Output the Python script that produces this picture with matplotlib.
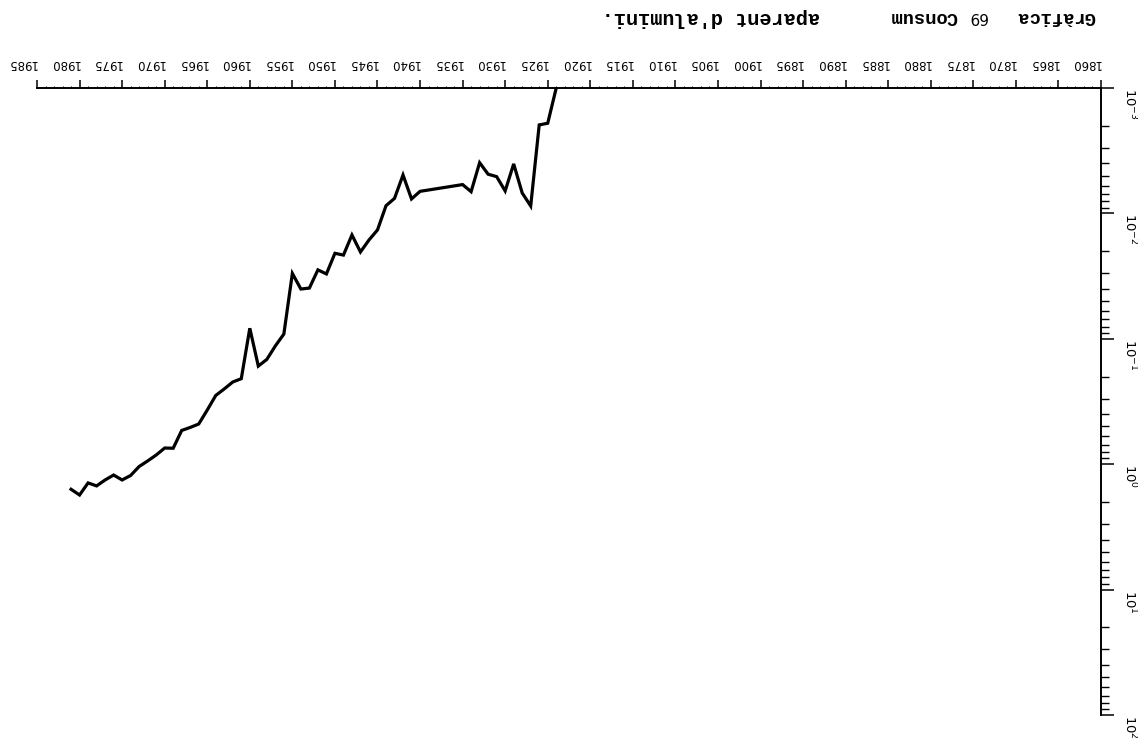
import numpy as np
import matplotlib
matplotlib.use("Agg")
import matplotlib.pyplot as plt
from matplotlib import font_manager
from matplotlib.ticker import FixedLocator, NullFormatter

years = [1924, 1925, 1926, 1927, 1928, 1929, 1930, 1931, 1932, 1933, 1934, 1935,
         1940, 1941, 1942, 1943, 1944, 1945, 1946, 1947, 1948, 1949, 1950,
         1951, 1952, 1953, 1954, 1955, 1956, 1957, 1958, 1959, 1960,
         1961, 1962, 1963, 1964, 1965, 1966, 1967, 1968, 1969, 1970,
         1971, 1972, 1973, 1974, 1975, 1976, 1977, 1978, 1979, 1980, 1981]
consum = [0.00100, 0.00191, 0.00197, 0.00873, 0.00687, 0.00403, 0.00662, 0.00509,
          0.00487, 0.00394, 0.00671, 0.00589,
          0.00667, 0.00767, 0.00494, 0.00759, 0.00869, 0.01355, 0.0163, 0.0203,
          0.01486, 0.0215, 0.0208,
          0.0304, 0.0282, 0.0394, 0.0401, 0.0301, 0.0917, 0.114, 0.146, 0.165, 0.0824,
          0.208, 0.221, 0.251, 0.283, 0.370, 0.478, 0.509, 0.538, 0.746, 0.743,
          0.845, 0.942, 1.043, 1.23, 1.336, 1.22, 1.336, 1.49, 1.41, 1.76, 1.585]

xticks = list(range(1860, 1990, 5))
decades = [1e-3, 1e-2, 1e-1, 1e0, 1e1, 1e2]
ylabels = [r'$10^{-3}$', r'$10^{-2}$', r'$10^{-1}$', r'$10^{0}$', r'$10^{1}$', r'$10^{2}$']

# narrow plotter digits if the narrow face is around
names = set(f.name for f in font_manager.fontManager.ttflist)
if 'Liberation Sans Narrow' in names:
    tick_font, tick_size = 'Liberation Sans Narrow', 10
else:
    tick_font, tick_size = 'DejaVu Sans', 8.5

W, H = 1138, 742
fig = plt.figure(figsize=(W / 100, H / 100), dpi=100)
# whole page is upside down: x runs right->left, y (log) top->bottom
ax = fig.add_axes([37 / W, 1 - 715 / H, (1101 - 37) / W, (715 - 88) / H])

ax.plot(years, consum, color='black', lw=2.3, solid_joinstyle='miter')

ax.set_yscale('log')
ax.set_xlim(1985, 1860)
ax.set_ylim(1e2, 1e-3)

for s in ['left', 'bottom']:
    ax.spines[s].set_visible(False)
for s in ['top', 'right']:
    ax.spines[s].set_linewidth(1.4)

ax.xaxis.tick_top()
ax.yaxis.tick_right()

ax.set_xticks(xticks)
ax.set_xticklabels([str(y) for y in xticks], family=tick_font, fontsize=tick_size)
ax.xaxis.set_minor_locator(FixedLocator(list(range(1860, 1986))))
ax.tick_params(axis='x', which='major', direction='out', length=6, width=1.1,
               pad=7, labelrotation=180)
ax.tick_params(axis='x', which='minor', direction='out', length=1.5, width=0.7)
for lab in ax.get_xticklabels():
    lab.set_ha('right')
    lab.set_va('bottom')

minors = [m * d for d in decades[:-1] for m in range(2, 10)]
ax.set_yticks(decades)
ax.set_yticklabels(ylabels)
ax.yaxis.set_minor_locator(FixedLocator(minors))
ax.yaxis.set_minor_formatter(NullFormatter())
ax.tick_params(axis='y', which='major', direction='out', length=9, width=1.1,
               pad=6, labelsize=9.5, labelrotation=-90)
ax.tick_params(axis='y', which='minor', direction='out', length=6, width=1.0)
for lab in ax.get_yticklabels():
    lab.set_va('top')
    lab.set_ha('left')

# title, typed upside down along the top edge
fig.text(1095 / W, 1 - 17 / H, 'Gràfica', rotation=180, ha='right', va='center',
         family='Liberation Mono', weight='bold', fontsize=13.5)
fig.text(977 / W, 1 - 17 / H, '69', rotation=180, ha='center', va='center',
         family='DejaVu Sans', fontsize=11)
fig.text(957 / W, 1 - 17 / H, 'Consum', rotation=180, ha='right', va='center',
         family='Liberation Mono', weight='bold', fontsize=13.5)
fig.text(602 / W, 1 - 17 / H, "aparent d'alumini.", rotation=180, ha='left', va='center',
         family='Liberation Mono', weight='bold', fontsize=14.5)

fig.savefig('out.png', dpi=100)
